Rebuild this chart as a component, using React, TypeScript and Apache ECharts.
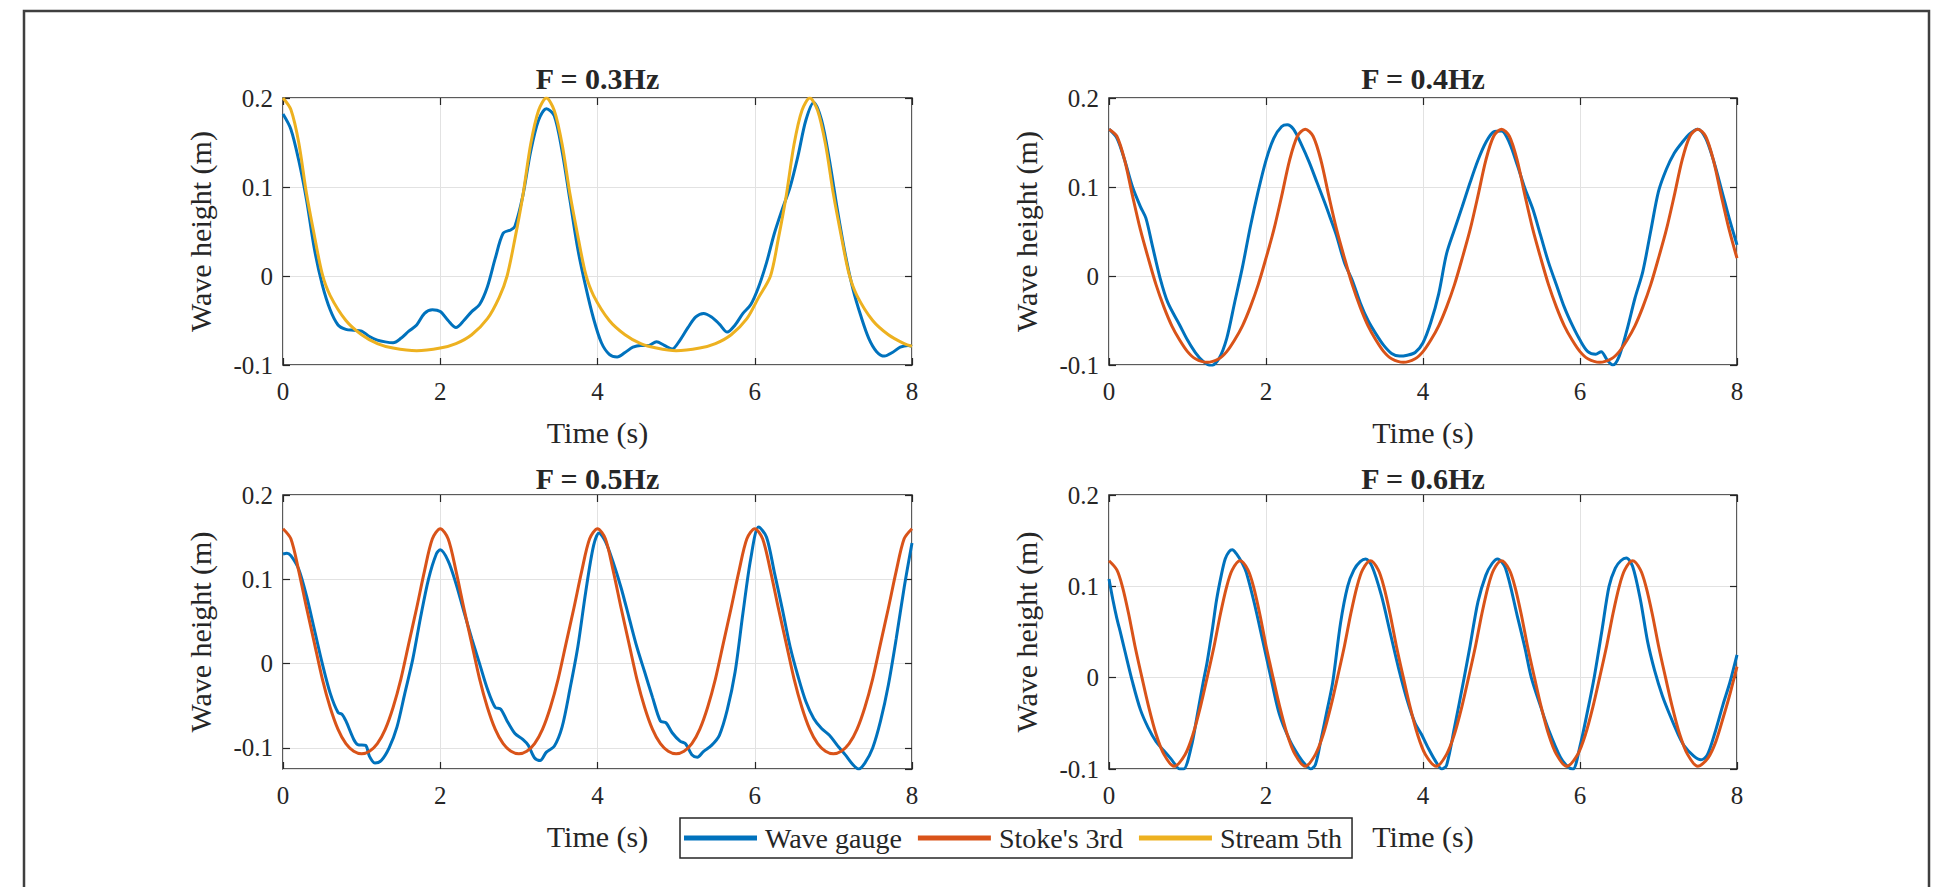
import React, { useEffect, useRef } from 'react';
import * as echarts from 'echarts';

// ---------- data ----------
const panelTitles = ['F = 0.3Hz', 'F = 0.4Hz', 'F = 0.5Hz', 'F = 0.6Hz'];
const seriesNames = ['Wave gauge', "Stoke's 3rd", 'Stream 5th'];
const xLimits = [0, 8];
const yLimits = [[-0.1, 0.2], [-0.1, 0.2], [-0.125, 0.2], [-0.1, 0.2]];
const xAxisName = 'Time (s)';
const yAxisName = 'Wave height (m)';

const gauge03 = [[0,0.182],[0.1,0.165],[0.2,0.130],[0.3,0.085],[0.4,0.030],[0.5,-0.010],[0.6,-0.038],[0.7,-0.055],[0.8,-0.060],[0.9,-0.061],[1.0,-0.062],[1.1,-0.068],[1.2,-0.072],[1.3,-0.074],[1.4,-0.075],[1.5,-0.070],[1.6,-0.062],[1.7,-0.055],[1.8,-0.042],[1.9,-0.038],[2.0,-0.040],[2.1,-0.050],[2.2,-0.058],[2.3,-0.050],[2.4,-0.040],[2.5,-0.032],[2.6,-0.012],[2.7,0.020],[2.8,0.048],[2.9,0.052],[2.95,0.056],[3.05,0.090],[3.15,0.140],[3.25,0.175],[3.35,0.188],[3.45,0.180],[3.55,0.140],[3.65,0.085],[3.75,0.030],[3.85,-0.012],[3.95,-0.048],[4.05,-0.075],[4.15,-0.088],[4.25,-0.091],[4.35,-0.086],[4.45,-0.080],[4.55,-0.078],[4.65,-0.078],[4.75,-0.074],[4.85,-0.078],[4.95,-0.082],[5.05,-0.072],[5.15,-0.058],[5.25,-0.046],[5.35,-0.042],[5.45,-0.046],[5.55,-0.054],[5.65,-0.063],[5.75,-0.055],[5.85,-0.042],[5.95,-0.032],[6.05,-0.012],[6.15,0.015],[6.25,0.048],[6.35,0.075],[6.45,0.100],[6.55,0.135],[6.65,0.175],[6.75,0.195],[6.85,0.175],[6.95,0.130],[7.05,0.075],[7.15,0.025],[7.25,-0.015],[7.35,-0.045],[7.45,-0.070],[7.55,-0.085],[7.65,-0.090],[7.75,-0.086],[7.85,-0.080],[7.95,-0.078],[8.0,-0.079]];

const stream03 = [[0,0.200],[0.1,0.187],[0.2,0.150],[0.3,0.092],[0.4,0.045],[0.5,0.002],[0.6,-0.022],[0.8,-0.050],[1.0,-0.066],[1.2,-0.076],[1.4,-0.081],[1.7,-0.084],[2.0,-0.081],[2.2,-0.076],[2.4,-0.066],[2.6,-0.048],[2.75,-0.024],[2.85,0.000],[2.95,0.042],[3.05,0.090],[3.15,0.148],[3.25,0.186],[3.35,0.200],[3.45,0.186],[3.55,0.148],[3.65,0.092],[3.75,0.045],[3.85,0.002],[3.95,-0.022],[4.15,-0.050],[4.35,-0.066],[4.55,-0.076],[4.75,-0.081],[5.0,-0.084],[5.3,-0.081],[5.5,-0.076],[5.7,-0.066],[5.9,-0.048],[6.05,-0.024],[6.2,0.000],[6.3,0.042],[6.4,0.090],[6.5,0.148],[6.6,0.186],[6.7,0.200],[6.8,0.186],[6.9,0.148],[7.0,0.092],[7.1,0.045],[7.2,0.002],[7.3,-0.022],[7.5,-0.050],[7.7,-0.066],[7.9,-0.076],[8.0,-0.079]];

const gauge04 = [[0,0.165],[0.1,0.155],[0.2,0.130],[0.3,0.100],[0.4,0.078],[0.47,0.065],[0.55,0.035],[0.65,-0.002],[0.75,-0.030],[0.9,-0.055],[1.0,-0.072],[1.1,-0.086],[1.2,-0.096],[1.3,-0.101],[1.4,-0.093],[1.5,-0.070],[1.6,-0.030],[1.7,0.010],[1.8,0.055],[1.9,0.095],[2.0,0.130],[2.1,0.155],[2.2,0.168],[2.27,0.170],[2.35,0.165],[2.45,0.148],[2.55,0.128],[2.65,0.105],[2.75,0.082],[2.82,0.065],[2.9,0.045],[3.0,0.015],[3.1,-0.005],[3.2,-0.030],[3.3,-0.050],[3.4,-0.065],[3.5,-0.078],[3.6,-0.087],[3.7,-0.090],[3.8,-0.089],[3.9,-0.086],[4.0,-0.075],[4.1,-0.052],[4.2,-0.020],[4.3,0.025],[4.4,0.052],[4.5,0.078],[4.6,0.105],[4.7,0.130],[4.8,0.150],[4.9,0.162],[5.0,0.163],[5.1,0.150],[5.2,0.125],[5.3,0.098],[5.4,0.075],[5.5,0.045],[5.6,0.015],[5.7,-0.010],[5.8,-0.035],[5.9,-0.055],[6.0,-0.072],[6.1,-0.085],[6.2,-0.088],[6.27,-0.085],[6.35,-0.095],[6.42,-0.100],[6.5,-0.090],[6.6,-0.060],[6.7,-0.025],[6.8,0.005],[6.9,0.050],[7.0,0.095],[7.1,0.120],[7.2,0.138],[7.3,0.150],[7.4,0.160],[7.5,0.165],[7.6,0.155],[7.7,0.130],[7.8,0.098],[7.9,0.065],[8.0,0.035]];

const stokes04 = [[0,0.165],[0.1,0.157],[0.2,0.130],[0.3,0.090],[0.4,0.052],[0.5,0.020],[0.6,-0.010],[0.7,-0.035],[0.8,-0.056],[0.9,-0.072],[1.0,-0.085],[1.1,-0.093],[1.25,-0.097],[1.4,-0.093],[1.5,-0.085],[1.6,-0.072],[1.7,-0.056],[1.8,-0.035],[1.9,-0.010],[2.0,0.020],[2.1,0.052],[2.2,0.090],[2.3,0.130],[2.4,0.157],[2.5,0.165],[2.6,0.157],[2.7,0.130],[2.8,0.090],[2.9,0.052],[3.0,0.020],[3.1,-0.010],[3.2,-0.035],[3.3,-0.056],[3.4,-0.072],[3.5,-0.085],[3.6,-0.093],[3.75,-0.097],[3.9,-0.093],[4.0,-0.085],[4.1,-0.072],[4.2,-0.056],[4.3,-0.035],[4.4,-0.010],[4.5,0.020],[4.6,0.052],[4.7,0.090],[4.8,0.130],[4.9,0.157],[5.0,0.165],[5.1,0.157],[5.2,0.130],[5.3,0.090],[5.4,0.052],[5.5,0.020],[5.6,-0.010],[5.7,-0.035],[5.8,-0.056],[5.9,-0.072],[6.0,-0.085],[6.1,-0.093],[6.25,-0.097],[6.4,-0.093],[6.5,-0.085],[6.6,-0.072],[6.7,-0.056],[6.8,-0.035],[6.9,-0.010],[7.0,0.020],[7.1,0.052],[7.2,0.090],[7.3,0.130],[7.4,0.157],[7.5,0.165],[7.6,0.157],[7.7,0.130],[7.8,0.090],[7.9,0.052],[8.0,0.020]];

const gauge05 = [[0,0.130],[0.05,0.131],[0.1,0.128],[0.2,0.112],[0.3,0.080],[0.4,0.040],[0.5,0.000],[0.6,-0.035],[0.7,-0.058],[0.75,-0.060],[0.8,-0.068],[0.9,-0.090],[0.95,-0.096],[1.05,-0.097],[1.1,-0.110],[1.17,-0.118],[1.25,-0.115],[1.35,-0.100],[1.45,-0.075],[1.55,-0.035],[1.65,0.005],[1.75,0.055],[1.85,0.100],[1.95,0.130],[2.0,0.135],[2.1,0.122],[2.2,0.095],[2.3,0.062],[2.4,0.030],[2.5,0.000],[2.6,-0.030],[2.7,-0.052],[2.77,-0.054],[2.85,-0.068],[2.95,-0.083],[3.05,-0.090],[3.12,-0.097],[3.2,-0.112],[3.27,-0.115],[3.35,-0.105],[3.45,-0.098],[3.55,-0.075],[3.65,-0.030],[3.75,0.020],[3.85,0.085],[3.95,0.140],[4.02,0.155],[4.1,0.145],[4.2,0.120],[4.3,0.090],[4.4,0.055],[4.5,0.020],[4.6,-0.010],[4.7,-0.040],[4.8,-0.068],[4.87,-0.070],[4.95,-0.082],[5.05,-0.092],[5.12,-0.095],[5.2,-0.108],[5.27,-0.111],[5.35,-0.104],[5.45,-0.097],[5.55,-0.085],[5.65,-0.055],[5.75,-0.010],[5.85,0.060],[5.95,0.125],[6.05,0.162],[6.15,0.150],[6.25,0.108],[6.35,0.065],[6.45,0.020],[6.55,-0.015],[6.65,-0.045],[6.75,-0.065],[6.85,-0.077],[6.95,-0.085],[7.05,-0.097],[7.15,-0.108],[7.25,-0.120],[7.32,-0.125],[7.4,-0.118],[7.5,-0.100],[7.6,-0.068],[7.7,-0.025],[7.8,0.030],[7.9,0.090],[8.0,0.143]];

const stokes05 = [[0,0.160],[0.1,0.148],[0.2,0.110],[0.3,0.066],[0.4,0.024],[0.5,-0.018],[0.6,-0.052],[0.7,-0.078],[0.8,-0.095],[0.9,-0.104],[1.0,-0.107],[1.1,-0.104],[1.2,-0.095],[1.3,-0.078],[1.4,-0.052],[1.5,-0.018],[1.6,0.024],[1.7,0.066],[1.8,0.110],[1.9,0.148],[2.0,0.160],[2.1,0.148],[2.2,0.110],[2.3,0.066],[2.4,0.024],[2.5,-0.018],[2.6,-0.052],[2.7,-0.078],[2.8,-0.095],[2.9,-0.104],[3.0,-0.107],[3.1,-0.104],[3.2,-0.095],[3.3,-0.078],[3.4,-0.052],[3.5,-0.018],[3.6,0.024],[3.7,0.066],[3.8,0.110],[3.9,0.148],[4.0,0.160],[4.1,0.148],[4.2,0.110],[4.3,0.066],[4.4,0.024],[4.5,-0.018],[4.6,-0.052],[4.7,-0.078],[4.8,-0.095],[4.9,-0.104],[5.0,-0.107],[5.1,-0.104],[5.2,-0.095],[5.3,-0.078],[5.4,-0.052],[5.5,-0.018],[5.6,0.024],[5.7,0.066],[5.8,0.110],[5.9,0.148],[6.0,0.160],[6.1,0.148],[6.2,0.110],[6.3,0.066],[6.4,0.024],[6.5,-0.018],[6.6,-0.052],[6.7,-0.078],[6.8,-0.095],[6.9,-0.104],[7.0,-0.107],[7.1,-0.104],[7.2,-0.095],[7.3,-0.078],[7.4,-0.052],[7.5,-0.018],[7.6,0.024],[7.7,0.066],[7.8,0.110],[7.9,0.148],[8.0,0.160]];

const gauge06 = [[0,0.108],[0.05,0.085],[0.1,0.065],[0.15,0.048],[0.2,0.030],[0.3,-0.005],[0.4,-0.035],[0.5,-0.055],[0.6,-0.070],[0.7,-0.080],[0.8,-0.090],[0.9,-0.100],[0.95,-0.100],[1.05,-0.075],[1.12,-0.043],[1.2,-0.005],[1.25,0.017],[1.32,0.055],[1.37,0.085],[1.43,0.112],[1.48,0.130],[1.53,0.138],[1.57,0.140],[1.62,0.136],[1.7,0.125],[1.75,0.115],[1.85,0.082],[1.96,0.040],[2.05,0.005],[2.17,-0.040],[2.3,-0.068],[2.42,-0.086],[2.5,-0.095],[2.57,-0.100],[2.63,-0.095],[2.7,-0.068],[2.78,-0.035],[2.85,-0.005],[2.95,0.060],[3.04,0.100],[3.12,0.118],[3.2,0.127],[3.27,0.130],[3.35,0.122],[3.47,0.090],[3.58,0.050],[3.69,0.010],[3.8,-0.025],[3.9,-0.050],[3.98,-0.062],[4.06,-0.076],[4.15,-0.090],[4.24,-0.100],[4.3,-0.096],[4.4,-0.055],[4.52,-0.002],[4.6,0.035],[4.7,0.083],[4.8,0.112],[4.88,0.125],[4.95,0.130],[5.05,0.120],[5.2,0.068],[5.3,0.032],[5.38,0.000],[5.5,-0.032],[5.6,-0.057],[5.75,-0.087],[5.85,-0.098],[5.91,-0.100],[6.0,-0.075],[6.1,-0.035],[6.18,0.000],[6.28,0.052],[6.37,0.100],[6.45,0.120],[6.52,0.128],[6.59,0.131],[6.67,0.122],[6.77,0.085],[6.86,0.040],[6.95,0.008],[7.05,-0.020],[7.15,-0.042],[7.25,-0.062],[7.33,-0.075],[7.45,-0.086],[7.54,-0.090],[7.62,-0.085],[7.72,-0.060],[7.82,-0.030],[7.91,-0.005],[8.0,0.025]];

const stokes06 = [[0,0.128],[0.1,0.118],[0.17,0.100],[0.25,0.070],[0.33,0.035],[0.42,0.000],[0.5,-0.030],[0.6,-0.062],[0.7,-0.084],[0.83,-0.097],[0.97,-0.084],[1.07,-0.062],[1.17,-0.030],[1.25,0.000],[1.34,0.035],[1.42,0.070],[1.5,0.100],[1.57,0.118],[1.67,0.128],[1.77,0.118],[1.84,0.100],[1.92,0.070],[2.0,0.035],[2.09,0.000],[2.17,-0.030],[2.27,-0.062],[2.37,-0.084],[2.5,-0.097],[2.63,-0.084],[2.73,-0.062],[2.83,-0.030],[2.91,0.000],[3.0,0.035],[3.08,0.070],[3.16,0.100],[3.23,0.118],[3.33,0.128],[3.43,0.118],[3.5,0.100],[3.58,0.070],[3.66,0.035],[3.75,0.000],[3.83,-0.030],[3.93,-0.062],[4.03,-0.084],[4.17,-0.097],[4.3,-0.084],[4.4,-0.062],[4.5,-0.030],[4.58,0.000],[4.67,0.035],[4.75,0.070],[4.83,0.100],[4.9,0.118],[5.0,0.128],[5.1,0.118],[5.17,0.100],[5.25,0.070],[5.33,0.035],[5.42,0.000],[5.5,-0.030],[5.6,-0.062],[5.7,-0.084],[5.83,-0.097],[5.97,-0.084],[6.07,-0.062],[6.17,-0.030],[6.25,0.000],[6.34,0.035],[6.42,0.070],[6.5,0.100],[6.57,0.118],[6.67,0.128],[6.77,0.118],[6.84,0.100],[6.92,0.070],[7.0,0.035],[7.09,0.000],[7.17,-0.030],[7.27,-0.062],[7.37,-0.084],[7.5,-0.097],[7.63,-0.088],[7.73,-0.070],[7.83,-0.042],[7.91,-0.018],[8.0,0.012]];

// which series belong to which panel
const panelSeries = [
  [{ name: seriesNames[0], data: gauge03 }, { name: seriesNames[2], data: stream03 }],
  [{ name: seriesNames[0], data: gauge04 }, { name: seriesNames[1], data: stokes04 }],
  [{ name: seriesNames[0], data: gauge05 }, { name: seriesNames[1], data: stokes05 }],
  [{ name: seriesNames[0], data: gauge06 }, { name: seriesNames[1], data: stokes06 }],
];

// ---------- styling / layout ----------
const COLORS: Record<string, string> = {
  'Wave gauge': '#0072BD',
  "Stoke's 3rd": '#D95319',
  'Stream 5th': '#EDB120',
};
const FONT = 'Liberation Serif';
const INK = '#262626';
const GRIDS = [
  { left: 283, top: 98, width: 629, height: 267 },
  { left: 1109, top: 98, width: 628, height: 267 },
  { left: 283, top: 495, width: 629, height: 274 },
  { left: 1109, top: 495, width: 628, height: 274 },
];
const TITLE_Y = [78, 78, 478, 478];

export default function App() {
  const ref = useRef<HTMLDivElement>(null);
  useEffect(() => {
    if (!ref.current) return;
    const chart = echarts.init(ref.current, undefined, { renderer: 'svg' });

    const tick = { show: true, inside: true, length: 7, lineStyle: { color: INK, width: 1.2 } };
    const hiddenLine = { show: false, onZero: false };
    const xAxes: any[] = [];
    const yAxes: any[] = [];
    GRIDS.forEach((_, i) => {
      xAxes.push({
        type: 'value', gridIndex: i, position: 'bottom', min: xLimits[0], max: xLimits[1], interval: 2,
        axisLine: hiddenLine, axisTick: tick,
        axisLabel: { fontSize: 25, color: INK, fontFamily: FONT, margin: 14 },
        splitLine: { show: true, lineStyle: { color: '#e2e2e2', width: 1 } },
        name: xAxisName, nameLocation: 'middle', nameGap: 52,
        nameTextStyle: { fontSize: 30, color: INK, fontFamily: FONT },
      });
    });
    GRIDS.forEach((_, i) => {
      xAxes.push({
        type: 'value', gridIndex: i, position: 'top', min: xLimits[0], max: xLimits[1], interval: 2,
        axisLine: hiddenLine, axisTick: tick, axisLabel: { show: false }, splitLine: { show: false },
      });
    });
    const yScale = (i: number) => {
      const [mn, mx] = yLimits[i];
      if (Math.abs(mn / 0.1 - Math.round(mn / 0.1)) < 1e-9) return { min: mn, max: mx, interval: 0.1 };
      return { min: mn, max: mx, splitNumber: 3 };
    };
    GRIDS.forEach((_, i) => {
      yAxes.push({
        type: 'value', gridIndex: i, position: 'left', ...yScale(i),
        axisLine: hiddenLine, axisTick: tick,
        axisLabel: { fontSize: 25, color: INK, fontFamily: FONT, margin: 10, showMinLabel: i !== 2 },
        splitLine: { show: true, lineStyle: { color: '#e2e2e2', width: 1 } },
        name: yAxisName, nameLocation: 'middle', nameGap: 68,
        nameTextStyle: { fontSize: 30, color: INK, fontFamily: FONT },
      });
    });
    GRIDS.forEach((_, i) => {
      yAxes.push({
        type: 'value', gridIndex: i, position: 'right', ...yScale(i),
        axisLine: hiddenLine, axisTick: tick, axisLabel: { show: false }, splitLine: { show: false },
      });
    });

    const series: any[] = [];
    panelSeries.forEach((list, i) => {
      list.forEach((s) => {
        series.push({
          type: 'line', name: s.name, data: s.data, xAxisIndex: i, yAxisIndex: i,
          showSymbol: false, symbol: 'none', smooth: 0.3, silent: true,
          lineStyle: { color: COLORS[s.name], width: 3 },
          itemStyle: { color: COLORS[s.name] },
          emphasis: { disabled: true },
        });
      });
    });

    const titleGraphics = GRIDS.map((g, i) => ({
      type: 'text',
      x: g.left + g.width / 2,
      y: TITLE_Y[i],
      style: {
        text: panelTitles[i], font: `bold 30px ${FONT}`, fill: INK,
        textAlign: 'center', textVerticalAlign: 'middle', verticalAlign: 'middle',
      },
    }));

    chart.setOption({
      animation: false,
      backgroundColor: '#ffffff',
      textStyle: { fontFamily: FONT },
      grid: GRIDS.map((g) => ({
        ...g, show: true, borderColor: INK, borderWidth: 1.5,
        backgroundColor: 'rgba(0,0,0,0)', containLabel: false, outerBoundsMode: 'none',
      })),
      xAxis: xAxes,
      yAxis: yAxes,
      legend: {
        left: 680, top: 818, orient: 'horizontal',
        data: seriesNames.map((n) => ({ name: n, icon: 'rect' })),
        itemWidth: 73, itemHeight: 5, itemGap: 16,
        padding: [6, 10, 6, 4],
        borderColor: INK, borderWidth: 1.5, backgroundColor: '#ffffff',
        textStyle: { fontSize: 28, color: INK, fontFamily: FONT, padding: [0, 0, 0, 3] },
        selectedMode: false,
      },
      graphic: [
        {
          type: 'rect', shape: { x: 24, y: 11, width: 1905, height: 1000 },
          style: { fill: 'none', stroke: '#3f3f3f', lineWidth: 2.5 }, silent: true, z: -10,
        },
        ...titleGraphics,
      ],
      series,
    });
    return () => chart.dispose();
  }, []);
  return (
    <div
      ref={ref}
      style={{ position: 'absolute', left: 0, top: 0, width: 1941, height: 887, background: '#fff' }}
    />
  );
}
